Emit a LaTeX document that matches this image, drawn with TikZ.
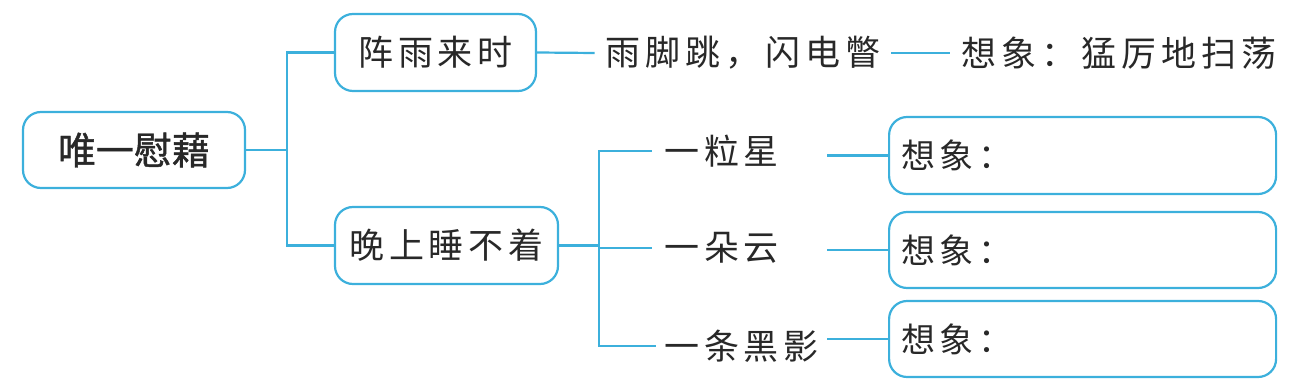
\documentclass[tikz,border=0pt]{standalone}
\usepackage{fontspec}
\newfontfamily\kaifont{Noto Sans CJK SC}[LetterSpace=14]
\newfontfamily\heifont{Noto Sans CJK SC}[FakeBold=1.2]
\definecolor{lblue}{RGB}{60,176,220}
\definecolor{txt}{RGB}{40,40,40}
\begin{document}
\begin{tikzpicture}[x=1pt,y=-1pt,
  conn/.style={draw=lblue, line width=2.2pt},
  rbox/.style={draw=lblue, line width=2.2pt, rounded corners=18pt, inner sep=0pt, text=txt},
  lbl/.style={inner ysep=0pt, inner xsep=11pt, text=txt, font=\kaifont\fontsize{35}{40}\selectfont}]
\useasboundingbox (0,0) rectangle (1307,387);

% boxes
\node[rbox, minimum width=222pt, minimum height=76pt, font=\heifont\fontsize{38}{44}\selectfont] (root) at (134,150) {唯一慰藉};
\node[rbox, minimum width=201pt, minimum height=77pt, font=\kaifont\fontsize{35}{40}\selectfont] (n1) at (435.5,52.5) {阵雨来时};
\node[rbox, minimum width=223pt, minimum height=77pt, font=\kaifont\fontsize{35}{40}\selectfont] (n2) at (446.5,245.5) {晚上睡不着};

% top row texts
\node[lbl] (t1) at (743,53) {雨脚跳，闪电瞥};
\node[lbl, inner xsep=12pt] (t2) at (1119,53) {想象：猛厉地扫荡};

% sub items
\node[lbl, anchor=west, inner xsep=12pt] (s1) at (652,151) {一粒星};
\node[lbl, anchor=west, inner xsep=12pt] (s2) at (652,248) {一朵云};
\node[lbl, anchor=west, inner xsep=8pt] (s3) at (656,346) {一条黑影};

% imagination boxes
\node[rbox, anchor=west, minimum height=77pt, inner xsep=12pt, text width=363pt, align=left, font=\kaifont\fontsize{34}{40}\selectfont] (b1) at (888,155.5) {想象：};
\node[rbox, anchor=west, minimum height=76pt, inner xsep=12pt, text width=363pt, align=left, font=\kaifont\fontsize{34}{40}\selectfont] (b2) at (888,250) {想象：};
\node[rbox, anchor=west, minimum height=76pt, inner xsep=12pt, text width=363pt, align=left, font=\kaifont\fontsize{34}{40}\selectfont] (b3) at (888,339) {想象：};

% junctions
\coordinate (j1) at (287,150);
\coordinate (j2) at (599,245.5);

% connectors
\draw[conn] (root.east) -- (j1);
\draw[conn] (j1) |- (n1.west);
\draw[conn] (j1) |- (n2.west);
\draw[conn] (n1.east) -- (t1.west);
\draw[conn] (t1.east) -- (t2.west);
\draw[conn] (n2.east) -- (j2);
\draw[conn] (j2) |- (s1.west);
\draw[conn] (j2) |- (s2.west);
\draw[conn] (j2) |- (s3.west);
\draw[conn] (b1.west) -- (b1.west -| s3.east);
\draw[conn] (b2.west) -- (b2.west -| s3.east);
\draw[conn] (b3.west) -- (b3.west -| s3.east);
\end{tikzpicture}
\end{document}
